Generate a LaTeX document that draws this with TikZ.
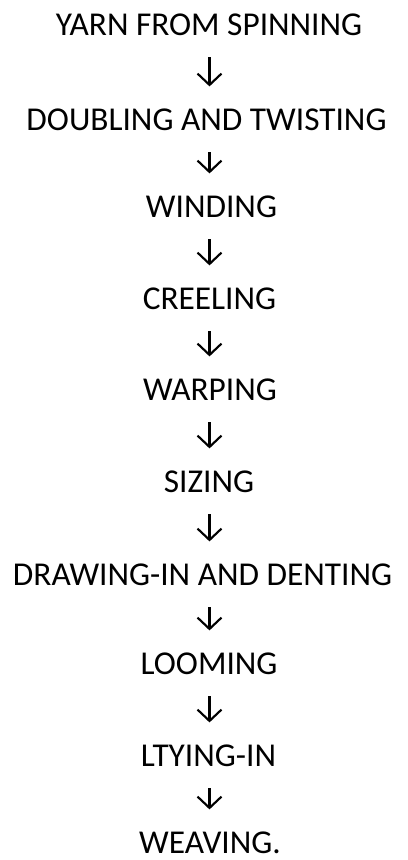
\documentclass[tikz,border=0pt]{standalone}
\usepackage{fontspec}
\setmainfont{Carlito}
\usetikzlibrary{arrows.meta}
\tikzset{
  stage/.style={anchor=base, inner sep=0pt, text height=16pt, text depth=0pt,
    font=\fontsize{25pt}{30pt}\selectfont},
  flow/.style={line width=1.6pt, shorten <=16.5pt, shorten >=16.5pt,
    -{Straight Barb[length=8.5pt,width=18pt,line width=1.6pt]}}
}
\begin{document}
\begin{tikzpicture}[x=0.75pt,y=-0.75pt]
\useasboundingbox (0,0) rectangle (407,860);
\coordinate (axis) at (209.5,0);
\node[stage] (n1) at (209,35) {YARN FROM SPINNING};
\node[stage] (n2) at (206.5,130) {DOUBLING AND TWISTING};
\node[stage] (n3) at (211.5,217) {WINDING};
\node[stage] (n4) at (209.5,309) {CREELING};
\node[stage] (n5) at (210,400) {WARPING};
\node[stage] (n6) at (209,492) {SIZING};
\node[stage] (n7) at (202.5,585) {DRAWING-IN AND DENTING};
\node[stage] (n8) at (209,674) {LOOMING};
\node[stage] (n9) at (208.5,766) {LTYING-IN};
\node[stage] (n10) at (210,853) {WEAVING.};
\foreach \a/\b in {n1/n2,n2/n3,n3/n4,n4/n5,n5/n6,n6/n7,n7/n8,n8/n9,n9/n10}
  \draw[flow] (\a.south -| axis) -- (\b.north -| axis);
\end{tikzpicture}
\end{document}
